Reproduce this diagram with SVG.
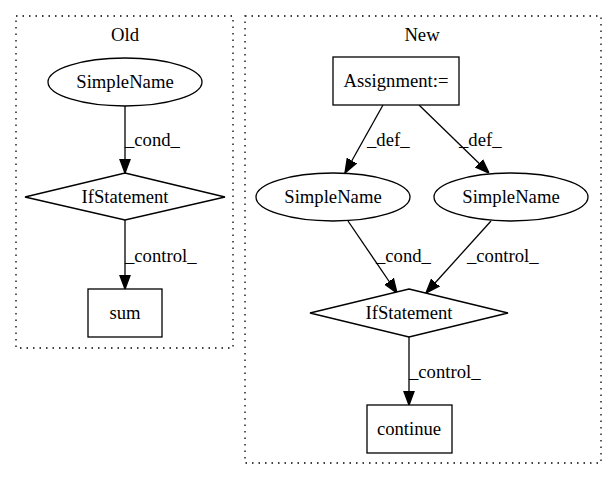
<svg xmlns="http://www.w3.org/2000/svg" width="616" height="480" viewBox="0 0 616 480" font-family="'Liberation Serif', 'Times New Roman', serif">
<style>
text{font-family:'Liberation Serif','Times New Roman',serif;font-size:18.67px;fill:#000;text-anchor:middle}
.lbl{text-anchor:start}
.cl{fill:none;stroke:#000;stroke-width:1.3;stroke-dasharray:1.5,5}
.n{fill:#fff;stroke:#000;stroke-width:1.3}
.e{fill:none;stroke:#000;stroke-width:1.3}
</style>
<defs>
<marker id="ah" viewBox="0 0 10 10" refX="10" refY="5" markerWidth="14" markerHeight="14" markerUnits="userSpaceOnUse" orient="auto">
<path d="M0,1.3 L10,5 L0,8.7 Z" fill="#000" stroke="#000" stroke-width="1"/>
</marker>
</defs>
<rect width="616" height="480" fill="#fff"/>
<g id="cluster_old">
<rect class="cl" x="16" y="16" width="217" height="332"/>
<text x="125" y="41">Old</text>
</g>
<g id="cluster_new">
<rect class="cl" x="245" y="16" width="356" height="447"/>
<text x="422" y="41">New</text>
</g>
<g id="connectors">
<path class="e" d="M125,106 L125,173" marker-end="url(#ah)"/>
<text class="lbl" x="125" y="146">_cond_</text>
<path class="e" d="M125,220 L125,289" marker-end="url(#ah)"/>
<text class="lbl" x="125" y="262">_control_</text>
<path class="e" d="M383,105 L345,173" marker-end="url(#ah)"/>
<text class="lbl" x="367" y="146">_def_</text>
<path class="e" d="M419,105 L489,173" marker-end="url(#ah)"/>
<text class="lbl" x="459" y="146">_def_</text>
<path class="e" d="M348,221 L397,293" marker-end="url(#ah)"/>
<text class="lbl" x="376" y="262">_cond_</text>
<path class="e" d="M491,221 L426,293" marker-end="url(#ah)"/>
<text class="lbl" x="467" y="262">_control_</text>
<path class="e" d="M409,337 L409,405" marker-end="url(#ah)"/>
<text class="lbl" x="409" y="378">_control_</text>
</g>
<g id="old_simplename">
<ellipse class="n" cx="125" cy="82" rx="77" ry="24"/>
<text x="125" y="88">SimpleName</text>
</g>
<g id="old_ifstatement">
<polygon class="n" points="125,173 225,197 125,220 25,197"/>
<text x="125" y="203">IfStatement</text>
</g>
<g id="old_sum">
<rect class="n" x="88" y="289" width="74" height="48"/>
<text x="125" y="319">sum</text>
</g>
<g id="new_assignment">
<rect class="n" x="333" y="57" width="126" height="48"/>
<text x="396" y="87">Assignment:=</text>
</g>
<g id="new_simplename1">
<ellipse class="n" cx="333" cy="197" rx="77" ry="24"/>
<text x="333" y="203">SimpleName</text>
</g>
<g id="new_simplename2">
<ellipse class="n" cx="511" cy="197" rx="77" ry="24"/>
<text x="511" y="203">SimpleName</text>
</g>
<g id="new_ifstatement">
<polygon class="n" points="409,289 508,313 409,337 310,313"/>
<text x="409" y="319">IfStatement</text>
</g>
<g id="new_continue">
<rect class="n" x="367" y="405" width="85" height="48"/>
<text x="409" y="435">continue</text>
</g>
</svg>
